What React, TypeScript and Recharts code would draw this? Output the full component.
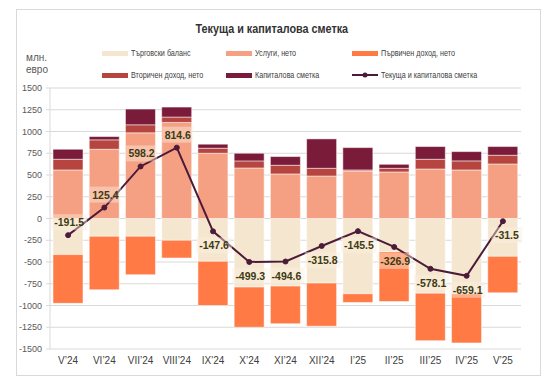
import React from 'react';
import { ComposedChart, Bar, Line, XAxis, YAxis, CartesianGrid, LabelList } from 'recharts';

const months = ['V’24', 'VI’24', 'VII’24', 'VIII’24', 'IX’24', 'X’24', 'XI’24', 'XII’24', 'I’25', 'II’25', 'III’25', 'IV’25', 'V’25'];
const tradeBalance = [-415, -204, -204, -250, -492, -788, -777, -742, -865, -385, -858, -865, -435];
const services = [558, 796, 985, 1104, 750, 581, 512, 488, 546, 535, 569, 558, 627];
const primaryIncome = [-560, -615, -442, -204, -508, -462, -432, -496, -100, -569, -546, -565, -419];
const secondaryIncome = [123, 108, 92, 62, 58, 81, 100, 89, 12, 42, 112, 104, 100];
const capitalAccount = [115, 38, 181, 115, 46, 88, 100, 338, 257, 46, 146, 107, 100];
const currentAndCapital = [-191.5, 125.4, 598.2, 814.6, -147.6, -499.3, -494.6, -315.8, -145.5, -326.9, -578.1, -659.1, -31.5];
const yTicks = [-1500, -1250, -1000, -750, -500, -250, 0, 250, 500, 750, 1000, 1250, 1500];

const FONT = '"Liberation Sans Narrow", "Liberation Sans", Arial, sans-serif';

const series = [
  { key: 'trade', name: 'Търговски баланс', color: '#F5E7CF', type: 'bar' },
  { key: 'services', name: 'Услуги, нето', color: '#F5A083', type: 'bar' },
  { key: 'primary', name: 'Първичен доход, нето', color: '#FF7A45', type: 'bar' },
  { key: 'secondary', name: 'Вторичен доход, нето', color: '#B6443F', type: 'bar' },
  { key: 'capital', name: 'Капиталова сметка', color: '#7B1B3A', type: 'bar' },
  { key: 'total', name: 'Текуща и капиталова сметка', color: '#4B1B39', type: 'line' },
];

const data = months.map((month, i) => ({
  month,
  trade: tradeBalance[i],
  services: services[i],
  primary: primaryIncome[i],
  secondary: secondaryIncome[i],
  capital: capitalAccount[i],
  total: currentAndCapital[i],
}));

// labels of the first four months sit above the point, the rest below
const PointLabel = (props: any) => {
  const { x, y, value, index } = props;
  if (x == null || y == null) return null;
  const text = value.toFixed(1);
  const above = index < 4;
  const cx = x + (index === months.length - 1 ? 4 : 1);
  const cy = above ? y - 13 : y + 14;
  const w = text.length * 5 + 6;
  return (
    <g>
      <rect x={cx - w / 2} y={cy - 8} width={w} height={16} fill="#FBEEDD" fillOpacity={0.45} />
      <text x={cx} y={cy} textAnchor="middle" dominantBaseline="central" fontFamily={FONT} fontSize={10.5} fontWeight={700} fill="#3E3A12">
        {text}
      </text>
    </g>
  );
};

const LegendBlock = () => (
  <div style={{ position: 'absolute', left: 0, top: 0, fontFamily: FONT, fontSize: 9, color: '#404040' }}>
    {series.map((s, i) => {
      const left = [102, 226, 352][i % 3];
      const top = [53, 75][Math.floor(i / 3)];
      return (
        <div key={s.key} style={{ position: 'absolute', left, top: top - 6, height: 12, display: 'flex', alignItems: 'center', whiteSpace: 'nowrap' }}>
          {s.type === 'bar' ? (
            <span style={{ display: 'inline-block', width: 26, height: 5, background: s.color }} />
          ) : (
            <svg width={26} height={8}>
              <line x1={0} y1={4} x2={26} y2={4} stroke={s.color} strokeWidth={2} />
              <circle cx={13} cy={4} r={2.5} fill={s.color} />
            </svg>
          )}
          <span style={{ marginLeft: 3, display: 'inline-block', transform: 'scaleX(0.8)', transformOrigin: 'left center' }}>{s.name}</span>
        </div>
      );
    })}
  </div>
);

export default function App() {
  return (
    <div style={{ position: 'absolute', left: 0, top: 0, width: 554, height: 384, background: '#fff' }}>
      <div style={{ position: 'absolute', left: 16, top: 9, width: 523, height: 365, border: '1px solid #D9D9D9' }} />
      <div style={{ position: 'absolute', left: 0, top: 19, width: 544, textAlign: 'center' }}>
        <span style={{ display: 'inline-block', fontFamily: FONT, fontSize: 12, fontWeight: 700, color: '#333', transform: 'scaleX(0.9)' }}>
          Текуща и капиталова сметка
        </span>
      </div>
      <div style={{ position: 'absolute', left: 26, top: 52, fontFamily: FONT, fontSize: 10, lineHeight: '12px', color: '#595959' }}>
        млн.
        <br />
        евро
      </div>
      <LegendBlock />
      <div style={{ position: 'absolute', left: 0, top: 0 }}>
        <ComposedChart width={554} height={384} data={data} stackOffset="sign" barSize={30} margin={{ top: 88, right: 33, bottom: 15, left: 14 }}>
          <CartesianGrid vertical={false} stroke="#D9D9D9" />
          <XAxis dataKey="month" axisLine={false} tickLine={false} tickSize={0} tickMargin={8} interval={0} height={20} tick={{ fontSize: 10, fill: '#404040', fontFamily: FONT }} />
          <YAxis domain={[-1500, 1500]} ticks={yTicks} width={36} interval={0} axisLine={{ stroke: '#D9D9D9' }} tickLine={{ stroke: '#D9D9D9' }} tickSize={4} tickMargin={4} tick={{ fontSize: 9, fill: '#595959', fontFamily: FONT }} />
          {series.filter((s) => s.type === 'bar').map((s) => (
            <Bar key={s.key} dataKey={s.key} name={s.name} stackId="a" fill={s.color} stroke="#FFFFFF" strokeOpacity={0.5} strokeWidth={1} isAnimationActive={false} />
          ))}
          <Line dataKey="total" name="Текуща и капиталова сметка" stroke="#4B1B39" strokeWidth={2} dot={{ r: 2.5, fill: '#4B1B39', stroke: '#4B1B39', strokeWidth: 1 }} activeDot={false} isAnimationActive={false}>
            <LabelList dataKey="total" content={PointLabel} />
          </Line>
        </ComposedChart>
      </div>
    </div>
  );
}
